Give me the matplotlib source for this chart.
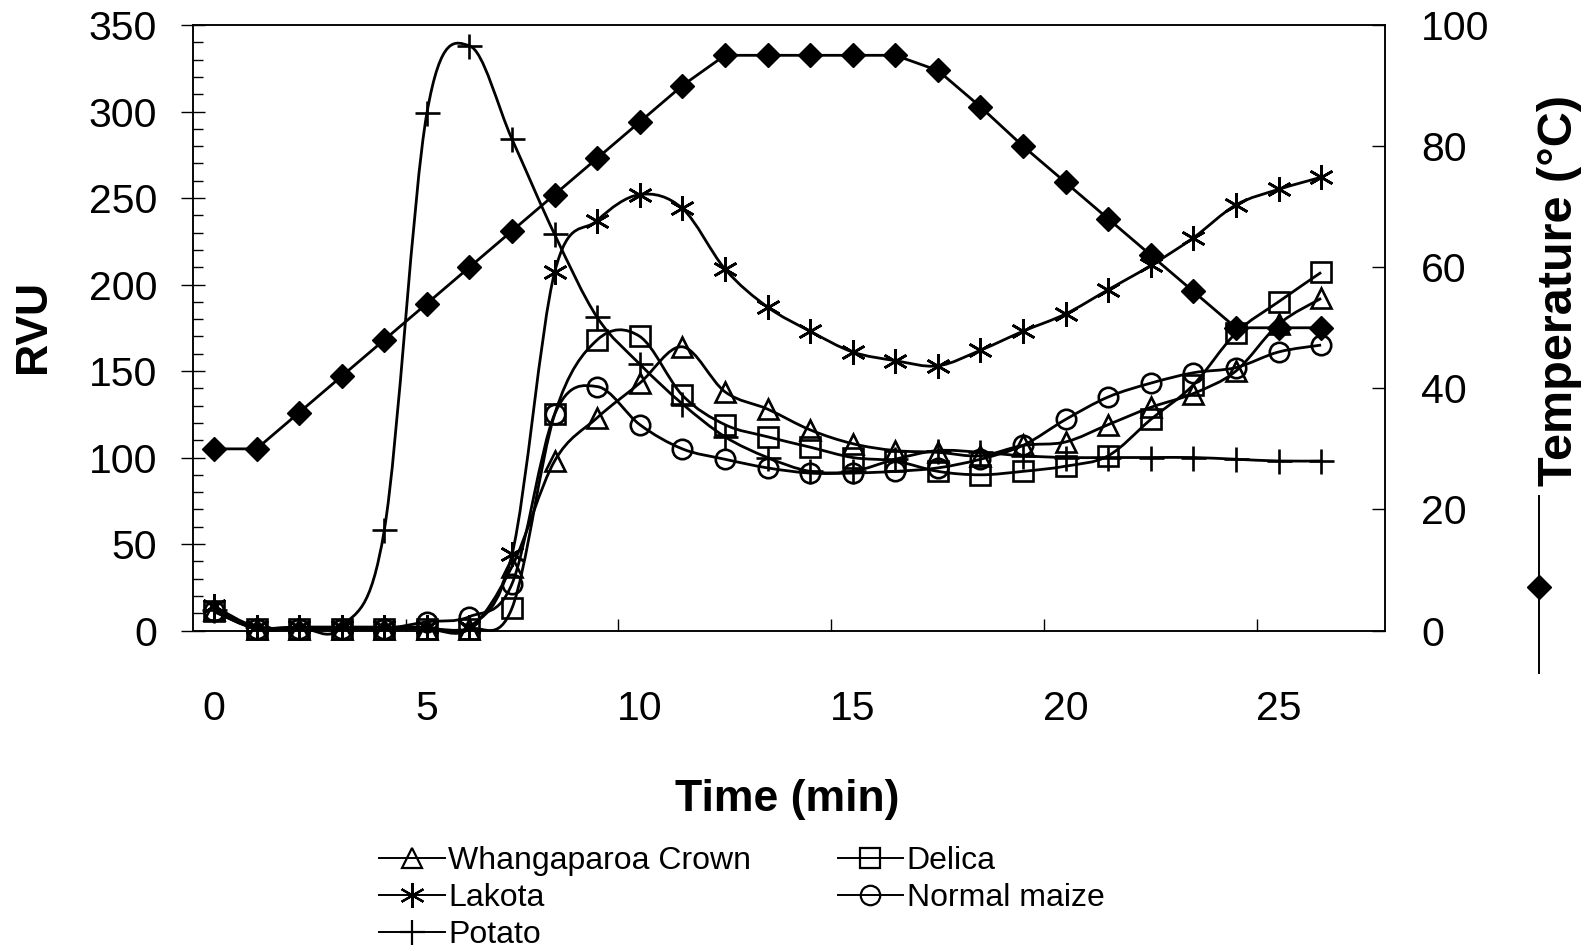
import matplotlib.pyplot as plt
import numpy as np
from matplotlib.path import Path
from matplotlib.patches import PathPatch
from matplotlib.lines import Line2D
from matplotlib.ticker import MultipleLocator

plt.rcParams['font.family'] = ['Liberation Sans', 'DejaVu Sans']

# RVA pasting profile
time = list(range(27))
temperature = [30, 30, 36, 42, 48, 54, 60, 66, 72, 78, 84, 90, 95, 95, 95, 95, 95,
               92.5, 86.5, 80, 74, 68, 62, 56, 50, 50, 50]
whangaparoa = [12, 1, 1, 1, 1, 1, 1, 37, 98, 123, 143, 164, 138, 128, 116, 108, 104,
               103, 101, 107, 109, 119, 129, 137, 150, 177, 192]
delica = [11, 1, 1, 1, 1, 1, 1, 13, 125, 168, 170, 136, 119, 112, 106, 100, 98,
          92, 90, 92, 95, 101, 122, 142, 172, 190, 207]
lakota = [14, 2, 2, 2, 2, 2, 2, 44, 207, 237, 252, 244, 209, 187, 173, 161, 156,
          153, 162, 173, 183, 197, 211, 227, 246, 255, 262]
maize = [11, 1, 1, 1, 1, 5, 8, 27, 125, 141, 119, 105, 99, 94, 91, 91, 92,
         94, 99, 107, 122, 135, 143, 149, 152, 161, 165]
potato = [12, 2, 2, 2, 58, 299, 338, 284, 229, 181, 154, 131, 112, 100, 92, 92, 99,
          104, 103, 101, 100, 100, 100, 100, 99, 98, 98]

labels = ['Whangaparoa Crown', 'Lakota', 'Potato', 'Delica', 'Normal maize']
series = [whangaparoa, lakota, potato, delica, maize]
markers = ['^', (6, 2, 0), '+', 's', 'o']
msizes = [14, 18, 18, 14, 14]


def smooth_path(x, y):
    # excel style smoothed line (bezier through the points)
    x = np.asarray(x, float)
    y = np.asarray(y, float)
    xp = np.concatenate([[x[0]], x, [x[-1]]])
    yp = np.concatenate([[y[0]], y, [y[-1]]])
    verts = [(x[0], y[0])]
    codes = [Path.MOVETO]
    for i in range(len(x) - 1):
        c1 = (x[i] + (xp[i + 2] - xp[i]) / 6, y[i] + (yp[i + 2] - yp[i]) / 6)
        c2 = (x[i + 1] - (xp[i + 3] - xp[i + 1]) / 6, y[i + 1] - (yp[i + 3] - yp[i + 1]) / 6)
        verts += [c1, c2, (x[i + 1], y[i + 1])]
        codes += [Path.CURVE4] * 3
    return Path(verts, codes)


fig = plt.figure(figsize=(15.87, 9.52), dpi=100)
ax = fig.add_axes([0.1214, 0.3377, 0.7513, 0.636])

for ys, m, ms in zip(series, markers, msizes):
    ax.add_patch(PathPatch(smooth_path(time, ys), fill=False, ec='black', lw=2.0, clip_on=False))
    ax.plot(time, ys, ls='none', marker=m, ms=ms, mfc='none', mec='black', mew=1.9, clip_on=False)

ax.set_xlim(-0.5, 27.5)
ax.set_ylim(0, 350)
ax.set_xticks([0, 5, 10, 15, 20, 25])
ax.set_xticks(np.arange(4.5, 27, 5), minor=True)
ax.tick_params(axis='x', which='major', length=0, pad=43, labelsize=29.5)
ax.tick_params(axis='x', which='minor', direction='in', length=9, width=1)
ax.set_yticks(range(0, 351, 50))
ax.yaxis.set_minor_locator(MultipleLocator(10))
ax.tick_params(axis='y', which='major', direction='inout', length=17, width=1, pad=17, labelsize=29.5)
ax.tick_params(axis='y', which='minor', direction='in', length=7.5, width=1)
for s in ax.spines.values():
    s.set_linewidth(1.1)

ax2 = ax.twinx()
ax2.plot(time, temperature, color='black', lw=2.0, marker='D', ms=12.5, mfc='black', mec='black', clip_on=False)
ax2.set_ylim(0, 100)
ax2.set_yticks(range(0, 101, 20))
ax2.tick_params(axis='y', direction='in', length=9.5, width=1, pad=26, labelsize=29.5)
for s in ax2.spines.values():
    s.set_linewidth(1.1)

fig.text(33 / 1587, 1 - 326 / 952, 'RVU', rotation=90, ha='center', va='center',
         fontsize=32, fontweight='bold')
fig.text(787 / 1587, 1 - 800 / 952, 'Time (min)', ha='center', va='center',
         fontsize=32, fontweight='bold')
fig.text(1560 / 1587, 1 - 291 / 952, 'Temperature (°C)', rotation=90, ha='center', va='center',
         fontsize=35, fontweight='bold')

# legend key for the temperature axis, drawn upright under its title
fig.add_artist(Line2D([0.970, 0.970], [0.293, 0.479], transform=fig.transFigure, color='black', lw=1.4))
fig.add_artist(Line2D([0.970], [0.383], transform=fig.transFigure, ls='none', marker='D',
                      ms=12.5, color='black'))

handles = [Line2D([], [], color='black', lw=1.4, marker=m, ms=ms, mfc='none', mec='black', mew=1.6)
           for m, ms in zip(markers, msizes)]
fig.legend(handles, labels, loc='upper left', bbox_to_anchor=(0.239, 0.111), ncol=2,
           frameon=False, prop={'size': 23},
           handlelength=2.06, handletextpad=0.1, columnspacing=2.7, labelspacing=0.22,
           borderpad=0, borderaxespad=0)

fig.savefig('out.png', dpi=100)
